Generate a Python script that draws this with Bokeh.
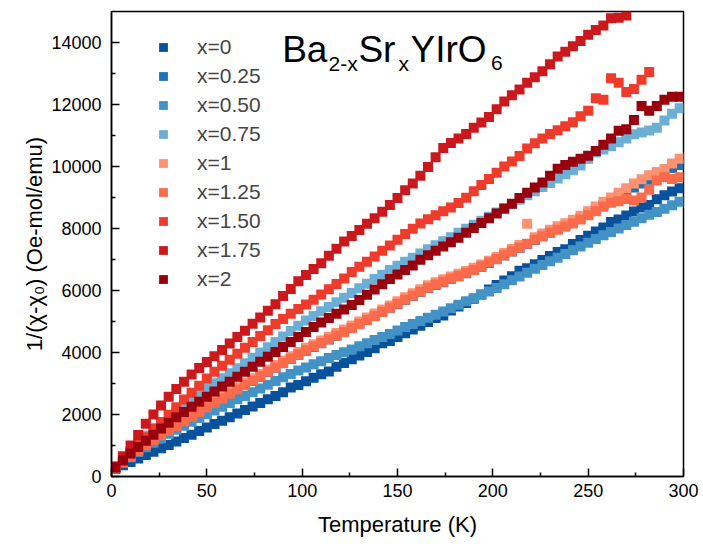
from bokeh.plotting import figure
from bokeh.models import Range1d, FixedTicker, Label, Legend, LegendItem
from bokeh.embed import file_html
from bokeh.resources import INLINE

T = [2, 6, 10, 14, 18, 22, 26, 30, 34, 38, 42, 46, 50, 54, 58, 62, 66, 70, 74, 78,
     82, 86, 90, 94, 98, 102, 106, 110, 114, 118, 122, 126, 130, 134, 138, 142, 146,
     150, 154, 158, 162, 166, 170, 174, 178, 182, 186, 190, 194, 198, 202, 206, 210,
     214, 218, 222, 226, 230, 234, 238, 242, 246, 250, 254, 258, 262, 266, 270, 274,
     278, 282, 286, 290, 294, 298]

labels = ["x=0", "x=0.25", "x=0.50", "x=0.75", "x=1", "x=1.25", "x=1.50", "x=1.75", "x=2"]
colors = ["#08519c", "#2171b5", "#4292c6", "#6baed6", "#fc9272", "#fb6a4a",
          "#ef3b2c", "#cb181d", "#99000d"]

v_x0 = [250, 360, 470, 580, 690, 800, 910, 1020, 1130, 1240, 1350, 1465, 1580, 1690,
        1800, 1915, 2030, 2145, 2260, 2370, 2490, 2600, 2720, 2870, 2950, 3070, 3185,
        3300, 3390, 3540, 3660, 3780, 3900, 4015, 4135, 4300, 4375, 4500, 4620, 4740,
        4860, 4985, 5110, 5190, 5355, 5480, 5600, 5730, 5870, 6030, 6180, 6320, 6460,
        6640, 6720, 6850, 6980, 7110, 7240, 7330, 7500, 7630, 7770, 7900, 8030, 8210,
        8290, 8420, 8550, 8680, 8760, 8940, 9070, 9190, 9300]
v_x025 = [270, 460, 640, 820, 1000, 1160, 1310, 1460, 1610, 1760, 1910, 2060, 2210, 2360,
          2510, 2650, 2790, 2940, 3080, 3220, 3370, 3510, 3650, 3790, 3930, 4060, 4180,
          4300, 4420, 4540, 4660, 4790, 4920, 5050, 5180, 5310, 5440, 5560, 5690, 5820,
          5950, 6080, 6180, 6270, 6370, 6460, 6560, 6660, 6770, 6890, 7010, 7130, 7260,
          7380, 7500, 7630, 7750, 7870, 7980, 8080, 8190, 8320, 8470, 8620, 8760, 8900,
          9040, 9180, 9320, 9450, 9570, 9680, 9800, 9950, 10050]
v_x050 = [300, 450, 620, 790, 940, 1090, 1240, 1380, 1510, 1640, 1770, 1890, 2010, 2130,
          2250, 2370, 2490, 2600, 2720, 2840, 2960, 3080, 3200, 3310, 3420, 3520, 3620,
          3720, 3820, 3920, 4010, 4100, 4200, 4300, 4400, 4500, 4600, 4710, 4820, 4920,
          5020, 5120, 5220, 5320, 5430, 5540, 5650, 5750, 5860, 5970, 6080, 6200, 6330,
          6450, 6570, 6700, 6820, 6940, 7060, 7180, 7300, 7420, 7540, 7660, 7780, 7890,
          8000, 8110, 8220, 8330, 8440, 8530, 8640, 8750, 8860]
v_x075 = [320, 560, 800, 1060, 1320, 1570, 1760, 1950, 2140, 2320, 2500, 2680, 2850, 3010,
          3170, 3330, 3490, 3650, 3830, 4000, 4170, 4340, 4520, 4690, 4860, 5030, 5180,
          5330, 5470, 5620, 5770, 5920, 6070, 6220, 6370, 6510, 6660, 6800, 6930, 7060,
          7190, 7330, 7460, 7590, 7720, 7860, 7990, 8120, 8250, 8380, 8520, 8660, 8790,
          8930, 9070, 9200, 9340, 9470, 9610, 9750, 9880, 10030, 10250, 10450, 10550, 10650,
          10780, 10900, 11040, 11100, 11160, 11250, 11480, 11700, 11880]
v_x1 = [300, 490, 680, 870, 1060, 1230, 1380, 1530, 1690, 1840, 1990, 2150, 2300, 2440,
        2590, 2740, 2880, 3025, 3170, 3310, 3450, 3600, 3740, 3880, 4020, 4150, 4270,
        4390, 4510, 4630, 4740, 4870, 5000, 5130, 5260, 5390, 5520, 5650, 5780, 5910,
        6040, 6170, 6270, 6360, 6450, 6540, 6630, 6730, 6840, 6960, 7080, 7210, 7340,
        7470, 8150, 7720, 7840, 7960, 8070, 8170, 8280, 8410, 8560, 8710, 8860, 9000,
        9150, 9300, 9450, 9590, 9720, 9820, 9920, 10100, 10250]
v_x125 = [280, 450, 640, 830, 1010, 1180, 1330, 1480, 1630, 1780, 1930, 2080, 2230, 2380,
          2520, 2670, 2810, 2950, 3090, 3240, 3380, 3520, 3660, 3800, 3940, 4070, 4190,
          4310, 4430, 4550, 4660, 4790, 4920, 5050, 5180, 5310, 5440, 5570, 5700, 5830,
          5960, 6090, 6190, 6280, 6380, 6470, 6570, 6660, 6780, 6900, 7020, 7140, 7270,
          7390, 7510, 7640, 7750, 7860, 7960, 8060, 8160, 8290, 8430, 8560, 8700, 8830,
          8880, 8950, 8900, 9000, 9250, 9550, 9650, 9600, 9650]
v_x150 = [300, 560, 800, 1020, 1270, 1530, 1760, 1990, 2230, 2480, 2700, 2930, 3160, 3380,
          3570, 3770, 3960, 4150, 4340, 4530, 4720, 4920, 5080, 5250, 5400, 5550, 5700,
          5870, 6040, 6210, 6390, 6600, 6770, 6930, 7100, 7280, 7450, 7640, 7820, 7990,
          8160, 8300, 8430, 8560, 8680, 8820, 8990, 9200, 9400, 9600, 9800, 10000, 10160,
          10340, 10580, 10750, 10900, 11050, 11170, 11300, 11430, 11620, 11800, 12200,
          12150, 12850, 12700, 12400, 12500, 12800, 13050]
v_x175 = [320, 650, 1000, 1340, 1700, 2000, 2290, 2570, 2820, 3060, 3290, 3500, 3690, 3880,
          4080, 4290, 4500, 4700, 4930, 5130, 5350, 5560, 5820, 6050, 6300, 6500, 6690,
          6880, 7120, 7350, 7580, 7760, 7950, 8150, 8330, 8540, 8760, 8980, 9230, 9450,
          9700, 9980, 10300, 10600, 10760, 10900, 11050, 11250, 11420, 11600, 11850, 12100,
          12300, 12480, 12700, 12880, 13070, 13300, 13550, 13700, 13880, 14050, 14250,
          14400, 14550, 14780, 14800, 14870]
v_x2 = [290, 520, 740, 950, 1150, 1350, 1550, 1730, 1910, 2080, 2250, 2410, 2570, 2740,
        2900, 3060, 3220, 3380, 3540, 3700, 3860, 4020, 4180, 4340, 4500, 4660, 4820,
        4970, 5110, 5250, 5390, 5530, 5690, 5860, 6030, 6200, 6370, 6520, 6660, 6810,
        6990, 7140, 7280, 7420, 7560, 7700, 7860, 8020, 8180, 8330, 8480, 8640, 8800,
        8980, 9150, 9320, 9480, 9700, 9930, 10050, 10150, 10250, 10350, 10500, 10700,
        10900, 11150, 11200, 11500, 11950, 11800, 11950, 12150, 12250, 12250]

series = [v_x0, v_x025, v_x050, v_x075, v_x1, v_x125, v_x150, v_x175, v_x2]

x_ticks = [0, 50, 100, 150, 200, 250, 300]
y_ticks = [0, 2000, 4000, 6000, 8000, 10000, 12000, 14000]

FONT = "Liberation Sans"

p = figure(width=703, height=548, output_backend="svg", toolbar_location=None,
           x_range=Range1d(0, 300), y_range=Range1d(0, 15000),
           min_border_left=111, min_border_right=20, min_border_top=11,
           min_border_bottom=72)
p.background_fill_color = "white"
p.border_fill_color = "white"
p.xgrid.visible = False
p.ygrid.visible = False
p.outline_line_color = "black"
p.outline_line_width = 1.5

items = []
for lab, col, vals in zip(labels, colors, series):
    r = p.scatter(x=T[:len(vals)], y=vals, marker="square", size=10,
                  fill_color=col, line_color=None)
    items.append(LegendItem(label=lab, renderers=[r]))

legend = Legend(items=items, location=(41, 185), padding=0, margin=0,
                glyph_width=22, glyph_height=22, label_height=22, spacing=5,
                label_standoff=23, label_text_font=FONT, label_text_font_size="21px",
                border_line_color=None, background_fill_alpha=0)
p.add_layout(legend)

for ax in (p.xaxis[0], p.yaxis[0]):
    ax.axis_line_width = 1.5
    ax.major_tick_line_width = 1.5
    ax.minor_tick_line_width = 1.5
    ax.major_tick_in = 8
    ax.major_tick_out = 0
    ax.minor_tick_in = 4
    ax.minor_tick_out = 0
    ax.major_label_text_font = FONT
    ax.major_label_text_font_size = "18px"
    ax.major_label_text_color = "black"
    ax.axis_label_text_font = FONT
    ax.axis_label_text_font_size = "22px"
    ax.axis_label_text_font_style = "normal"
    ax.axis_label_text_color = "black"

p.xaxis.ticker = FixedTicker(ticks=x_ticks, minor_ticks=[25, 75, 125, 175, 225, 275])
p.yaxis.ticker = FixedTicker(ticks=y_ticks,
                             minor_ticks=[1000, 3000, 5000, 7000, 9000, 11000, 13000])
p.xaxis.axis_label = "Temperature (K)"
p.yaxis.axis_label = "1/(\u03c7-\u03c7\u2080) (Oe-mol/emu)"
p.xaxis.major_label_standoff = 7
p.yaxis.major_label_standoff = 10
p.xaxis.axis_label_standoff = 12
p.yaxis.axis_label_standoff = 1

title_parts = [
    ("Ba", 89.5, 13777, "37px"),
    ("2-x", 113.8, 13327, "21px"),
    ("Sr", 129.5, 13777, "37px"),
    ("x", 150.5, 13327, "21px"),
    ("YIrO", 156.8, 13777, "37px"),
    ("6", 199.0, 13327, "21px"),
]
for txt, xx, yy, fs in title_parts:
    p.add_layout(Label(x=xx, y=yy, text=txt, text_font=FONT, text_font_size=fs,
                       text_baseline="alphabetic", text_align="left",
                       text_color="black"))

open("out.html", "w").write(file_html(p, INLINE))
